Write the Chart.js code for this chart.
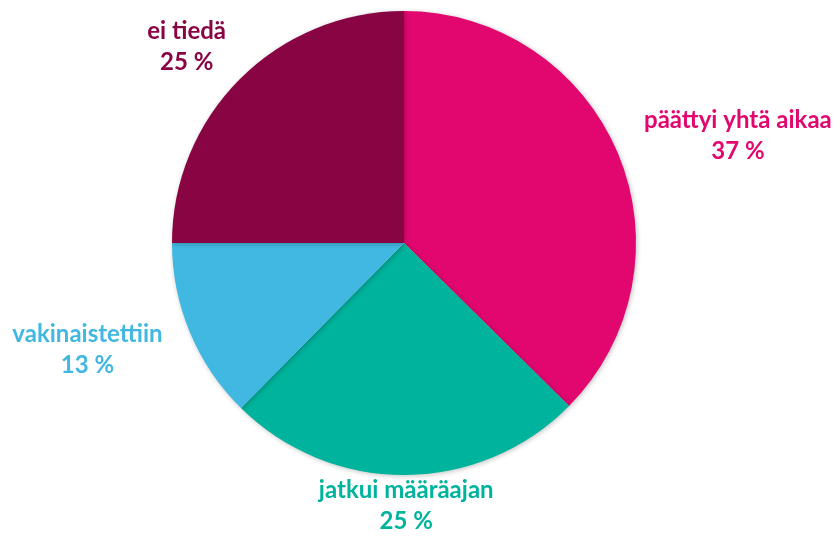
<!DOCTYPE html>
<html>
<head>
<meta charset="utf-8">
<script src="https://cdn.jsdelivr.net/npm/chart.js@4"></script>
<style>
  html, body { margin: 0; padding: 0; background: #fff; }
  #wrap { width: 840px; height: 536px; }
</style>
</head>
<body>
<div id="wrap"><canvas id="pieChart"></canvas></div>
<script>
const categories = ["päättyi yhtä aikaa", "jatkui määräajan", "vakinaistettiin", "ei tiedä"];
const shares = [37.4, 25, 12.6, 25];
const sliceColors = ["#e2076f", "#00b39c", "#41b8e2", "#890443"];

// draws the two-line labels outside each slice
const outsideLabels = {
  id: "outsideLabels",
  afterDatasetsDraw(chart) {
    const ctx = chart.ctx;
    const meta = chart.getDatasetMeta(0);
    const total = shares.reduce((a, b) => a + b, 0);
    ctx.save();
    ctx.font = "bold 24px Lato, 'Open Sans', sans-serif";
    ctx.textAlign = "center";
    ctx.textBaseline = "middle";
    meta.data.forEach((arc, i) => {
      const mid = (arc.startAngle + arc.endAngle) / 2;
      const cos = Math.cos(mid), sin = Math.sin(mid);
      const gx = 36;
      const gy = Math.abs(sin) > 0.9 ? 0 : 15;
      const lines = [categories[i], Math.round(shares[i] / total * 100) + " %"];
      const w = Math.max(...lines.map(l => ctx.measureText(l).width));
      const lh = 31;
      const h = lh * 2;
      const cx = arc.x + cos * (arc.outerRadius + gx + w / 2);
      const cy = arc.y + sin * (arc.outerRadius + gy + h / 2);
      ctx.fillStyle = sliceColors[i];
      ctx.fillText(lines[0], cx, cy - lh / 2);
      ctx.fillText(lines[1], cx, cy + lh / 2);
    });
    ctx.restore();
  }
};

// soft shadow under the pie
const pieShadow = {
  id: "pieShadow",
  beforeDatasetsDraw(chart) {
    const ctx = chart.ctx;
    ctx.save();
    ctx.shadowColor = "rgba(0,0,0,0.25)";
    ctx.shadowBlur = 5;
    ctx.shadowOffsetX = 1;
    ctx.shadowOffsetY = 1;
  },
  afterDatasetsDraw(chart) {
    chart.ctx.restore();
  }
};

new Chart(document.getElementById("pieChart"), {
  type: "pie",
  data: {
    labels: categories,
    datasets: [{
      data: shares,
      backgroundColor: sliceColors,
      borderWidth: 0
    }]
  },
  options: {
    responsive: true,
    maintainAspectRatio: false,
    animation: false,
    layout: { padding: { left: 172, right: 204, top: 10, bottom: 60 } },
    plugins: {
      legend: { display: false },
      tooltip: { enabled: false }
    }
  },
  plugins: [pieShadow, outsideLabels]
});
</script>
</body>
</html>
